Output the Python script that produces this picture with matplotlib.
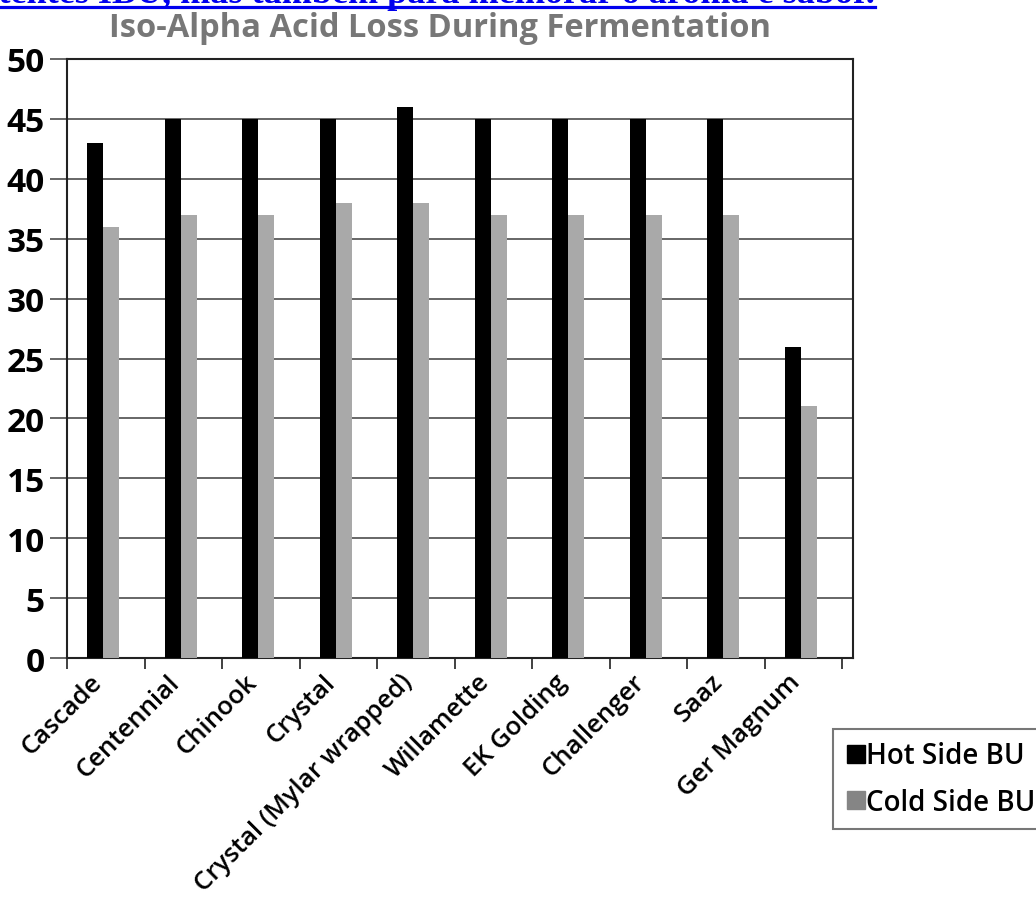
import matplotlib
matplotlib.use('Agg')
import matplotlib.pyplot as plt
import matplotlib.transforms as mtransforms
from matplotlib.lines import Line2D
import numpy as np

plt.rcParams.update({
    'font.family': ['Open Sans', 'DejaVu Sans'],
    'font.weight': 'semibold',
})

hops = ['Cascade', 'Centennial', 'Chinook', 'Crystal', 'Crystal (Mylar wrapped)',
        'Willamette', 'EK Golding', 'Challenger', 'Saaz', 'Ger Magnum']
hot_bu  = [43, 45, 45, 45, 46, 45, 45, 45, 45, 26]
cold_bu = [36, 37, 37, 38, 38, 37, 37, 37, 37, 21]
yticks  = [0, 5, 10, 15, 20, 25, 30, 35, 40, 45, 50]

HOT  = '#000000'
COLD = '#a9a9a9'
GRID = '#666666'

W, H = 1036, 903
fig = plt.figure(figsize=(W / 100, H / 100), dpi=100)
ax = fig.add_axes([67 / W, 1 - 659 / H, (853 - 67) / W, (659 - 60) / H])

x = np.arange(len(hops))
ax.bar(x - 0.135, hot_bu, width=0.205, color=HOT, zorder=3)
ax.bar(x + 0.07, cold_bu, width=0.205, color=COLD, zorder=3)

ax.set_xlim(-0.5, len(hops) - 0.5 + 0.14)
ax.set_ylim(0, 50)

# horizontal gridlines + outward y ticks
ax.set_yticks(yticks)
ax.set_yticklabels([str(v) for v in yticks], fontsize=24, fontweight='bold')
ax.yaxis.grid(True, color=GRID, linewidth=1.4, zorder=1)
ax.tick_params(axis='y', direction='out', length=12, width=1.4, color=GRID, pad=4)

# category labels at centres, separator ticks at boundaries
ax.set_xticks(x)
ax.set_xticklabels(hops, rotation=45, ha='right', rotation_mode='anchor', fontsize=18.5)
ax.tick_params(axis='x', which='major', length=0, pad=8)
shift = mtransforms.ScaledTranslation(-0.16, 0, fig.dpi_scale_trans)
for lbl in ax.get_xticklabels():
    lbl.set_transform(lbl.get_transform() + shift)
ax.set_xticks(np.arange(len(hops) + 1) - 0.5, minor=True)
ax.tick_params(axis='x', which='minor', direction='out', length=8, width=1.3, color='#333333')

for side in ['left', 'bottom', 'top', 'right']:
    ax.spines[side].set_linewidth(1.5)
    ax.spines[side].set_color('#222222')

fig.text(440 / W, 1 - 37 / H, 'Iso-Alpha Acid Loss During Fermentation',
         ha='center', va='baseline', fontsize=23.5, fontweight='bold', color='#777777')

# cropped hyperlink text at the very top
link = fig.text(875 / W, 1 - 3 / H,
                'consistentes IBU, mas também para melhorar o aroma e sabor.',
                ha='right', va='baseline', fontsize=26, color='#0000ee',
                family='Liberation Serif', fontweight='bold')
fig.canvas.draw()
bb = link.get_window_extent()
fig.add_artist(Line2D([bb.x0 / W, 875 / W], [1 - 8 / H, 1 - 8 / H],
                      color='#0000ee', linewidth=2.3, transform=fig.transFigure))

handles = [Line2D([], [], marker='s', linestyle='none', markersize=13.5, color=HOT),
           Line2D([], [], marker='s', linestyle='none', markersize=13.5, color='#858585')]
leg = fig.legend(handles, ['Hot Side BU', 'Cold Side BU'], loc='upper left',
                 bbox_to_anchor=(833 / W, 1 - 730 / H), borderaxespad=0, fontsize=20,
                 handlelength=0.75, handletextpad=0.0, labelspacing=0.62,
                 borderpad=0.45, fancybox=False, framealpha=1)
leg.get_frame().set_edgecolor('#777777')
leg.get_frame().set_linewidth(1.5)

fig.savefig('out.png', dpi=100)
